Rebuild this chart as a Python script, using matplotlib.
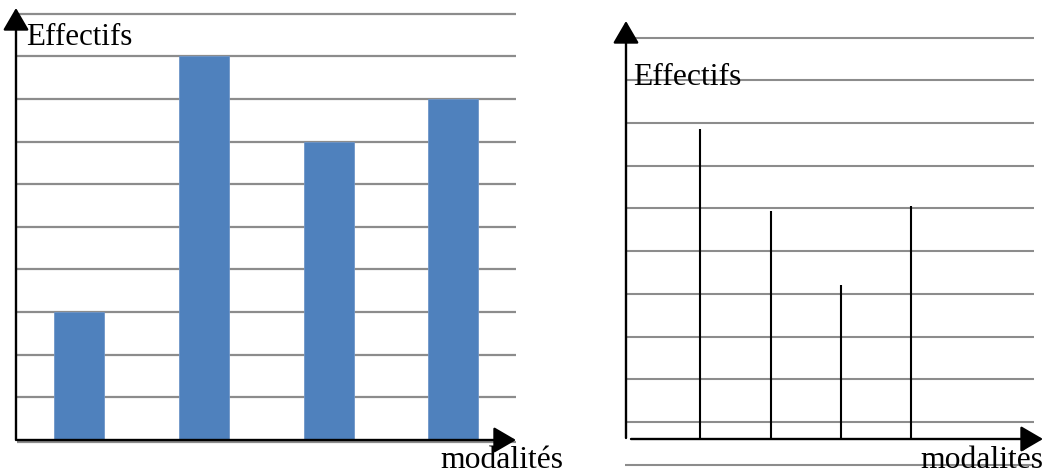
"""
Deux représentations des effectifs par modalité :
diagramme en bandes (gauche) et diagramme en bâtons (droite).
"""

import matplotlib.pyplot as plt

plt.rcParams['font.family'] = ['Liberation Serif', 'DejaVu Serif']

# Données
modalites = [0, 1, 2, 3]
effectifs_bandes = [3, 9, 7, 8]
effectifs_batons = [7.25, 5.35, 3.6, 5.45]

# lignes du fond (graduations)
grille_gauche = [0, 1, 2, 3, 4, 5, 6, 7, 8, 9, 10]
grille_droite = [-0.6, 0.4, 1.4, 2.4, 3.4, 4.4, 5.4, 6.4, 7.4, 8.4, 9.4]

W, H = 1044, 474
fig = plt.figure(figsize=(W / 100, H / 100), dpi=100)

GRID_COLOR = '#8c8c8c'
BAR_COLOR = '#4f81bd'


def fleche(x0, y0, x1, y1, lw=1.7):
    # flèche en pixels (origine en haut à gauche comme l'image)
    fig.add_artist(plt.matplotlib.patches.FancyArrowPatch(
        (x0 / W, 1 - y0 / H), (x1 / W, 1 - y1 / H),
        transform=fig.transFigure, arrowstyle='-|>,head_length=6,head_width=3.5',
        mutation_scale=2.3, color='black', lw=lw, shrinkA=0, shrinkB=0))


# ---- Diagramme en bandes ----
ax1 = fig.add_axes([17 / W, 0, 499 / W, 1])
ax1.set_xlim(-0.5, 3.503)
ax1.set_ylim(-34 / 42.63, 440 / 42.63)
for g in grille_gauche:
    ax1.axhline(g - (0.05 if g == 0 else 0), color=GRID_COLOR, lw=1.6,
                zorder=1)
ax1.bar(modalites, effectifs_bandes, width=0.4, color=BAR_COLOR,
        edgecolor='#6f96c8', linewidth=0.6, zorder=2)
ax1.axis('off')

fleche(16, 440, 16, 8)
fleche(17, 440, 516, 440)
fig.text(26 / W, 1 - 45 / H, 'Effectifs', fontsize=22.3, ha='left',
         va='baseline')
fig.text(440 / W, 1 - 468 / H, 'modalités', fontsize=22.8, ha='left',
         va='baseline')

# ---- Diagramme en bâtons ----
ax2 = fig.add_axes([625 / W, 0, 409 / W, 1])
ax2.set_xlim(-75.3 / 70.2, 333.7 / 70.2)
ax2.set_ylim(-35 / 42.7, 439 / 42.7)
for g in grille_droite:
    ax2.axhline(g, color=GRID_COLOR, lw=1.5, zorder=1)
ax2.vlines(modalites, 0, effectifs_batons, color='black', lw=1.5, zorder=2)
ax2.axis('off')

fleche(626, 438, 626, 21)
fleche(631, 439, 1043, 439)
fig.text(633 / W, 1 - 85 / H, 'Effectifs', fontsize=22.8, ha='left',
         va='baseline')
fig.text(920 / W, 1 - 468 / H, 'modalités', fontsize=22.8, ha='left',
         va='baseline')

plt.savefig('out.png', dpi=100)
plt.close()
